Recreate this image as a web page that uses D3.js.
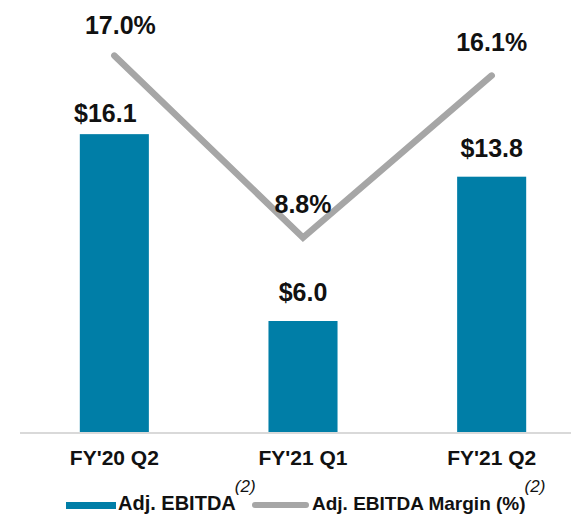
<!DOCTYPE html>
<html>
<head>
<meta charset="utf-8">
<script src="https://cdn.jsdelivr.net/npm/d3@7"></script>
<style>
  html, body { margin: 0; padding: 0; background: #fff; }
  svg { display: block; font-family: "Liberation Sans", Arial, sans-serif; }
</style>
</head>
<body>
<div id="chart"></div>
<script>
// Chart data
const categories = ["FY'20 Q2", "FY'21 Q1", "FY'21 Q2"]
const ebitda = [16.1, 6.0, 13.8]          // $M, bars
const margin = [17.0, 8.8, 16.1]          // %, line
const legendLabels = ['Adj. EBITDA', 'Adj. EBITDA Margin (%)']

const W = 571, H = 515
const baseY = 433
const barColor = '#007ea7'
const lineColor = '#a6a6a6'

const svg = d3.select('#chart').append('svg')
  .attr('width', W).attr('height', H)

const x = d3.scaleBand()
  .domain(categories)
  .range([20, 586])
  .paddingInner(0.634)
  .paddingOuter(0.317)

const yBar = d3.scaleLinear().domain([0, 20]).range([baseY - 1, baseY - 1 - 20 * 18.5])
const yPct = d3.scaleLinear().domain([0, 18]).range([baseY, baseY - 18 * 22.2])

const cx = d => x(d) + x.bandwidth() / 2

// bars
svg.append('g').selectAll('rect')
  .data(categories)
  .join('rect')
  .attr('x', d => x(d))
  .attr('width', x.bandwidth())
  .attr('y', (d, i) => yBar(ebitda[i]))
  .attr('height', (d, i) => yBar(0) - yBar(ebitda[i]))
  .attr('fill', barColor)

// baseline
svg.append('line')
  .attr('x1', 20).attr('x2', W)
  .attr('y1', baseY).attr('y2', baseY)
  .attr('stroke', '#d9d9d9').attr('stroke-width', 2)

// category labels
const xAxis = svg.append('g')
  .attr('transform', `translate(0,${baseY})`)
  .call(d3.axisBottom(x).tickSize(0).tickPadding(17))
xAxis.select('.domain').remove()
xAxis.selectAll('text')
  .attr('font-family', '"Liberation Sans", Arial, sans-serif')
  .attr('font-size', 21)
  .attr('font-weight', 'bold')
  .attr('fill', '#111')

// margin line
const line = d3.line()
  .x(d => cx(d.c))
  .y(d => yPct(d.v))
const pts = categories.map((c, i) => ({ c, v: margin[i] }))
svg.append('path')
  .datum(pts)
  .attr('d', line)
  .attr('fill', 'none')
  .attr('stroke', lineColor)
  .attr('stroke-width', 6.5)
  .attr('stroke-linecap', 'round')
  .attr('stroke-linejoin', 'miter')

// bar value labels (the first one is nudged off the line, as in the original)
svg.append('g').selectAll('text')
  .data(categories)
  .join('text')
  .attr('x', (d, i) => cx(d) + (i === 0 ? -9 : 0))
  .attr('y', (d, i) => yBar(ebitda[i]) - (i === 0 ? 12 : 20))
  .attr('text-anchor', 'middle')
  .attr('font-size', 25)
  .attr('font-weight', 'bold')
  .attr('fill', '#111')
  .text((d, i) => '$' + ebitda[i].toFixed(1))

// margin labels
svg.append('g').selectAll('text')
  .data(categories)
  .join('text')
  .attr('x', (d, i) => cx(d) + (i === 0 ? 6 : 0))
  .attr('y', (d, i) => yPct(margin[i]) - (i === 0 ? 22 : 25))
  .attr('text-anchor', 'middle')
  .attr('font-size', 25)
  .attr('font-weight', 'bold')
  .attr('fill', '#111')
  .text((d, i) => margin[i].toFixed(1) + '%')

// legend
const lg = svg.append('g')
lg.append('rect')
  .attr('x', 66).attr('y', 502).attr('width', 50).attr('height', 7)
  .attr('fill', barColor)
lg.append('line')
  .attr('x1', 255).attr('x2', 306).attr('y1', 505).attr('y2', 505)
  .attr('stroke', lineColor).attr('stroke-width', 6).attr('stroke-linecap', 'round')

const legendX = [118, 312]
const legendSize = [20, 19]
legendLabels.forEach((label, i) => {
  const t = lg.append('text')
    .attr('x', legendX[i]).attr('y', 510)
    .attr('font-size', legendSize[i])
    .attr('font-weight', 'bold')
    .attr('fill', '#111')
    .text(label)
  const w = t.node().getComputedTextLength()
  lg.append('text')
    .attr('x', legendX[i] + w - 1).attr('y', 492)
    .attr('font-size', 17)
    .attr('font-style', 'italic')
    .attr('fill', '#111')
    .text('(2)')
})
</script>
</body>
</html>
